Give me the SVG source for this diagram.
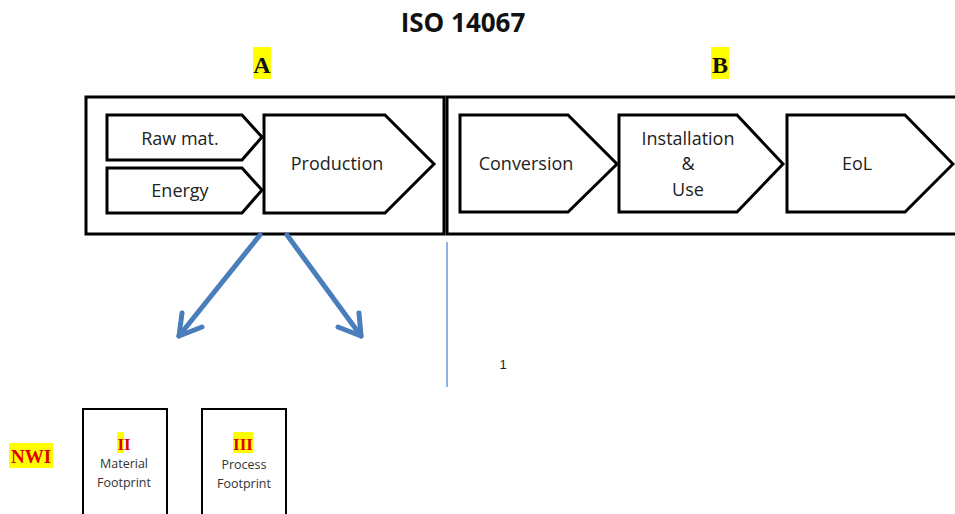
<svg xmlns="http://www.w3.org/2000/svg" width="955" height="514" viewBox="0 0 955 514">
  <style>
    .frame { fill: #fff; stroke: #000; stroke-width: 3; }
    .step { fill: #fff; stroke: #000; stroke-width: 3; stroke-linejoin: miter; }
    .lbl { font-family: "Open Sans", "Liberation Sans", sans-serif; font-size: 18px; fill: #222; text-anchor: middle; }
    .small { font-family: "Open Sans", "Liberation Sans", sans-serif; font-size: 12.5px; fill: #333; text-anchor: middle; }
    .title { font-family: "Open Sans", "Liberation Sans", sans-serif; font-size: 26px; font-weight: bold; fill: #111; text-anchor: middle; }
    .phase { font-family: "Liberation Serif", "DejaVu Serif", serif; font-size: 24px; font-weight: bold; fill: #111; text-anchor: middle; }
    .roman { font-family: "Liberation Serif", "DejaVu Serif", serif; font-weight: bold; fill: #e00000; text-anchor: middle; }
    .hl { fill: #ffff00; }
    .blue { stroke: #4a7ebb; stroke-width: 5; fill: none; stroke-linecap: round; stroke-linejoin: round; }
    .card { fill: #fff; stroke: #000; stroke-width: 2; }
  </style>

  <rect width="955" height="514" fill="#fff"/>

  <!-- Heading -->
  <text id="title" class="title" x="463" y="32">ISO 14067</text>

  <g id="label-A">
    <rect class="hl" x="253" y="47" width="18" height="32"/>
    <text class="phase" x="262" y="73">A</text>
  </g>
  <g id="label-B">
    <rect class="hl" x="711" y="47" width="18" height="32"/>
    <text class="phase" x="720" y="73">B</text>
  </g>

  <!-- Phase frames -->
  <g id="frame-A">
    <rect class="frame" x="86" y="97" width="358" height="137"/>
  </g>
  <g id="frame-B">
    <rect class="frame" x="447" y="97" width="520" height="137"/>
  </g>

  <!-- Life-cycle steps -->
  <g id="raw-mat">
    <polygon class="step" points="107,115 242,115 262,137 242,160 107,160"/>
    <text class="lbl" x="180" y="145">Raw mat.</text>
  </g>
  <g id="energy">
    <polygon class="step" points="107,168 242,168 262,190 242,213 107,213"/>
    <text class="lbl" x="180" y="197">Energy</text>
  </g>
  <g id="production">
    <polygon class="step" points="264,115 385,115 434,164 385,213 264,213"/>
    <text class="lbl" x="337" y="170">Production</text>
  </g>
  <g id="conversion">
    <polygon class="step" points="460,115 568,115 617,164 568,212 460,212"/>
    <text class="lbl" x="526" y="170">Conversion</text>
  </g>
  <g id="installation-use">
    <polygon class="step" points="619,115 737,115 783,164 737,212 619,212"/>
    <text class="lbl" x="688" y="145">Installation</text>
    <text class="lbl" x="688" y="170">&amp;</text>
    <text class="lbl" x="688" y="196">Use</text>
  </g>
  <g id="eol">
    <polygon class="step" points="787,115 905,115 953,164 905,212 787,212"/>
    <text class="lbl" x="857" y="170">EoL</text>
  </g>

  <!-- Connectors -->
  <g id="connectors">
    <line class="blue" x1="260" y1="235" x2="179" y2="336"/>
    <polyline class="blue" points="182,313 179,336 202,327"/>
    <line class="blue" x1="287" y1="235" x2="361" y2="336"/>
    <polyline class="blue" points="338,327 361,336 359,313"/>
    <line x1="447" y1="242" x2="447" y2="387" stroke="#8eb4e3" stroke-width="2"/>
  </g>

  <text id="page-num" x="503" y="369" font-family="Liberation Sans, sans-serif" font-size="13" fill="#222" text-anchor="middle">1</text>

  <!-- New work items -->
  <g id="nwi">
    <rect class="hl" x="9" y="443" width="44" height="25"/>
    <text class="roman" x="31" y="463" font-size="19">NWI</text>
  </g>
  <g id="material-footprint">
    <rect class="card" x="83" y="409" width="84" height="110"/>
    <rect class="hl" x="117" y="432" width="7" height="21"/>
    <text class="roman" x="124" y="450" font-size="17">II</text>
    <text class="small" x="124" y="468">Material</text>
    <text class="small" x="124" y="487">Footprint</text>
  </g>
  <g id="process-footprint">
    <rect class="card" x="202" y="409" width="84" height="110"/>
    <rect class="hl" x="233" y="432" width="20" height="21"/>
    <text class="roman" x="243" y="450" font-size="17">III</text>
    <text class="small" x="244" y="469">Process</text>
    <text class="small" x="244" y="488">Footprint</text>
  </g>
</svg>
